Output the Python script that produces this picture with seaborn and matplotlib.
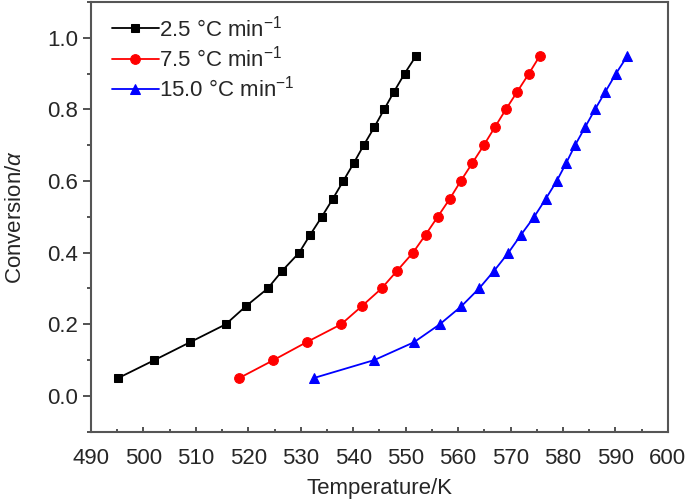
import numpy as np
import pandas as pd
import matplotlib
matplotlib.use('Agg')
import matplotlib.pyplot as plt
from matplotlib.ticker import MultipleLocator
import seaborn as sns

# conversion levels shared by all three runs
alpha = [0.05, 0.10, 0.15, 0.20, 0.25, 0.30, 0.35, 0.40, 0.45, 0.50,
         0.55, 0.60, 0.65, 0.70, 0.75, 0.80, 0.85, 0.90, 0.95]

# temperatures (K)
temp_2_5 = [495.2, 502.1, 508.9, 515.7, 519.5, 523.7, 526.5, 529.7, 531.8, 534.0,
            536.1, 538.1, 540.1, 542.0, 544.0, 545.9, 547.8, 549.8, 552.0]
temp_7_5 = [518.3, 524.8, 531.1, 537.7, 541.6, 545.4, 548.4, 551.4, 553.8, 556.1,
            558.4, 560.5, 562.7, 564.9, 567.0, 569.1, 571.3, 573.5, 575.6]
temp_15 = [532.5, 544.0, 551.6, 556.5, 560.6, 564.0, 566.9, 569.6, 572.0, 574.5,
           576.7, 578.8, 580.6, 582.3, 584.2, 586.1, 588.1, 590.1, 592.3]

labels = ['2.5 °C min$^{-1}$', '7.5 °C min$^{-1}$', '15.0 °C min$^{-1}$']

sns.set_style('ticks')
plt.rcParams['font.family'] = ['Liberation Sans', 'DejaVu Sans']
plt.rcParams['mathtext.fontset'] = 'custom'
plt.rcParams['mathtext.rm'] = 'Liberation Sans'
plt.rcParams['mathtext.it'] = 'Liberation Sans:italic'
plt.rcParams['mathtext.default'] = 'rm'

fig = plt.figure(figsize=(6.85, 5.03), dpi=100)
ax = fig.add_axes([0.1328, 0.1417, 0.8422, 0.8543])

series = [(temp_2_5, 'black', 's', 6.3),
          (temp_7_5, 'red', 'o', 7),
          (temp_15, 'blue', '^', 7.5)]
for (t, c, m, ms), lab in zip(series, labels):
    sns.lineplot(x=t, y=alpha, ax=ax, color=c, marker=m, markersize=ms,
                 markeredgecolor=c, linewidth=1.3, label=lab, sort=False)

ax.set_xlim(490, 600)
ax.set_ylim(-0.1, 1.1)
ax.xaxis.set_major_locator(MultipleLocator(10))
ax.xaxis.set_minor_locator(MultipleLocator(5))
ax.set_yticks([0.0, 0.2, 0.4, 0.6, 0.8, 1.0])
ax.yaxis.set_minor_locator(MultipleLocator(0.1))

ax.tick_params(axis='x', which='major', direction='in', length=3.5, width=1.3,
               color='#444444', labelsize=16, pad=11.5)
ax.tick_params(axis='x', which='minor', direction='in', length=2.5, width=1.3,
               color='#444444')
ax.tick_params(axis='y', which='major', direction='out', length=5.5, width=1.3,
               color='#444444', labelsize=16, pad=4)
ax.tick_params(axis='y', which='minor', direction='out', length=3, width=1.3,
               color='#444444')
for s in ax.spines.values():
    s.set_color('#555555')
    s.set_linewidth(1.5)

ax.set_xlabel('Temperature/K', fontsize=16, labelpad=7)
ax.set_ylabel('Conversion/$\\mathit{\\alpha}$', fontsize=16, labelpad=15)

ax.legend(loc='upper left', frameon=False, fontsize=16, handlelength=2.1,
          handletextpad=0.0, labelspacing=0.2, borderaxespad=0.0,
          bbox_to_anchor=(0.021, 0.99))

fig.savefig('out.png', dpi=100)
